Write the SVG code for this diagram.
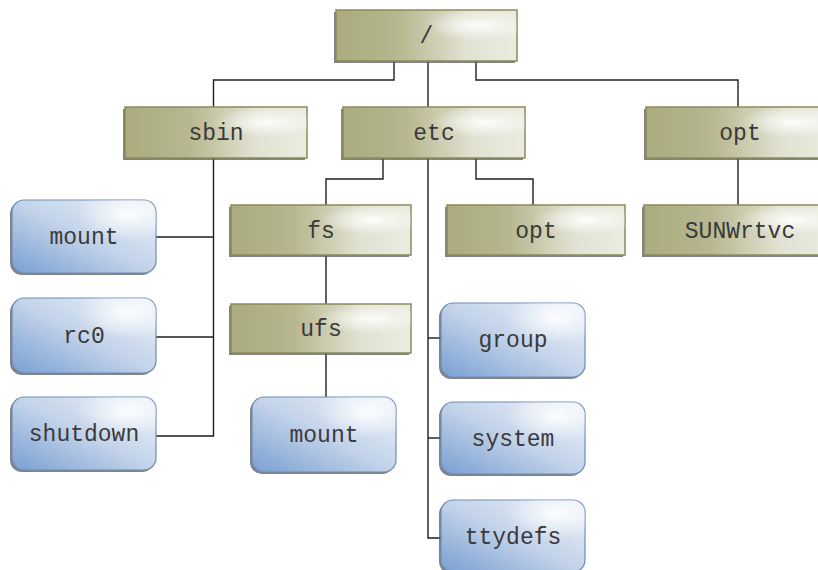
<svg xmlns="http://www.w3.org/2000/svg" width="818" height="570" viewBox="0 0 818 570">
<style>
.dir{fill:url(#gDir);stroke:#8a8a5c;stroke-width:1.5}
.file{fill:url(#gFile);stroke:#6f8db3;stroke-width:1.2}
.hl{stroke:none}
.sh{fill:#5a5a5a;opacity:0.75}
.t{font-family:"Liberation Mono","Courier New",monospace;font-size:23px;fill:#3a3a3a;text-anchor:middle}
.c{fill:none;stroke:#1e1e1e;stroke-width:1.4}
</style>
<defs>
<linearGradient id="gDir" x1="0" y1="0" x2="1" y2="0">
<stop offset="0" stop-color="#abab7f"/>
<stop offset="0.35" stop-color="#b7b790"/>
<stop offset="0.72" stop-color="#e2e2d3"/>
<stop offset="1" stop-color="#ebebe0"/>
</linearGradient>
<radialGradient id="hDir" cx="0.78" cy="0.3" r="0.3">
<stop offset="0" stop-color="#ffffff" stop-opacity="0.9"/>
<stop offset="1" stop-color="#ffffff" stop-opacity="0"/>
</radialGradient>
<linearGradient id="gFile" x1="0" y1="1" x2="1" y2="0">
<stop offset="0" stop-color="#789fd2"/>
<stop offset="0.5" stop-color="#c3d3ea"/>
<stop offset="1" stop-color="#eef3fa"/>
</linearGradient>
<radialGradient id="hFile" cx="0.8" cy="0.2" r="0.35">
<stop offset="0" stop-color="#ffffff" stop-opacity="0.9"/>
<stop offset="1" stop-color="#ffffff" stop-opacity="0"/>
</radialGradient>
</defs>
<rect width="818" height="570" fill="#ffffff"/>
<g id="connectors">
<path class="c" d="M394 61 V80 H213.5 V107"/>
<path class="c" d="M428 61 V107"/>
<path class="c" d="M476 61 V80 H738 V107"/>
<path class="c" d="M213.5 158 V436 H156"/>
<path class="c" d="M213.5 237 H156"/>
<path class="c" d="M213.5 337 H156"/>
<path class="c" d="M383 158 V179 H326 V205"/>
<path class="c" d="M476 158 V179 H533 V205"/>
<path class="c" d="M428 158 V538 H441"/>
<path class="c" d="M428 338 H441"/>
<path class="c" d="M428 438 H441"/>
<path class="c" d="M326 255 V304"/>
<path class="c" d="M326 353 V397"/>
<path class="c" d="M738 158 V205"/>
</g>
<g id="root">
<rect class="sh" x="334" y="12" width="181" height="51"/>
<rect class="dir" x="336" y="10" width="181" height="51"/>
<rect class="hl" x="336" y="10" width="181" height="51" fill="url(#hDir)"/>
<text class="t" x="426.5" y="43">/</text>
</g>
<g id="sbin">
<rect class="sh" x="123" y="109" width="182" height="51"/>
<rect class="dir" x="125" y="107" width="182" height="51"/>
<rect class="hl" x="125" y="107" width="182" height="51" fill="url(#hDir)"/>
<text class="t" x="216" y="140">sbin</text>
</g>
<g id="etc">
<rect class="sh" x="341" y="109" width="182" height="51"/>
<rect class="dir" x="343" y="107" width="182" height="51"/>
<rect class="hl" x="343" y="107" width="182" height="51" fill="url(#hDir)"/>
<text class="t" x="434" y="140">etc</text>
</g>
<g id="opt-root">
<rect class="sh" x="644" y="109" width="190" height="51"/>
<rect class="dir" x="646" y="107" width="190" height="51"/>
<rect class="hl" x="646" y="107" width="190" height="51" fill="url(#hDir)"/>
<text class="t" x="740" y="140">opt</text>
</g>
<g id="fs">
<rect class="sh" x="229" y="207" width="180" height="50"/>
<rect class="dir" x="231" y="205" width="180" height="50"/>
<rect class="hl" x="231" y="205" width="180" height="50" fill="url(#hDir)"/>
<text class="t" x="321" y="237.5">fs</text>
</g>
<g id="opt-etc">
<rect class="sh" x="445" y="207" width="178" height="50"/>
<rect class="dir" x="447" y="205" width="178" height="50"/>
<rect class="hl" x="447" y="205" width="178" height="50" fill="url(#hDir)"/>
<text class="t" x="536" y="237.5">opt</text>
</g>
<g id="SUNWrtvc">
<rect class="sh" x="642" y="207" width="190" height="50"/>
<rect class="dir" x="644" y="205" width="190" height="50"/>
<rect class="hl" x="644" y="205" width="190" height="50" fill="url(#hDir)"/>
<text class="t" x="740" y="237.5">SUNWrtvc</text>
</g>
<g id="ufs">
<rect class="sh" x="229" y="306" width="180" height="49"/>
<rect class="dir" x="231" y="304" width="180" height="49"/>
<rect class="hl" x="231" y="304" width="180" height="49" fill="url(#hDir)"/>
<text class="t" x="321" y="336">ufs</text>
</g>
<g id="mount-ufs">
<rect class="sh" x="250" y="399" width="144" height="75" rx="12"/>
<rect class="file" x="252" y="397" width="144" height="75" rx="12"/>
<rect class="hl" x="252" y="397" width="144" height="75" rx="12" fill="url(#hFile)"/>
<text class="t" x="324" y="442">mount</text>
</g>
<g id="mount-sbin">
<rect class="sh" x="10" y="202" width="144" height="73" rx="12"/>
<rect class="file" x="12" y="200" width="144" height="73" rx="12"/>
<rect class="hl" x="12" y="200" width="144" height="73" rx="12" fill="url(#hFile)"/>
<text class="t" x="84" y="244">mount</text>
</g>
<g id="rc0">
<rect class="sh" x="10" y="300" width="144" height="75" rx="12"/>
<rect class="file" x="12" y="298" width="144" height="75" rx="12"/>
<rect class="hl" x="12" y="298" width="144" height="75" rx="12" fill="url(#hFile)"/>
<text class="t" x="84" y="343">rc0</text>
</g>
<g id="shutdown">
<rect class="sh" x="10" y="399" width="144" height="73" rx="12"/>
<rect class="file" x="12" y="397" width="144" height="73" rx="12"/>
<rect class="hl" x="12" y="397" width="144" height="73" rx="12" fill="url(#hFile)"/>
<text class="t" x="84" y="441">shutdown</text>
</g>
<g id="group">
<rect class="sh" x="439" y="305" width="144" height="74" rx="12"/>
<rect class="file" x="441" y="303" width="144" height="74" rx="12"/>
<rect class="hl" x="441" y="303" width="144" height="74" rx="12" fill="url(#hFile)"/>
<text class="t" x="513" y="347">group</text>
</g>
<g id="system">
<rect class="sh" x="439" y="404" width="144" height="72" rx="12"/>
<rect class="file" x="441" y="402" width="144" height="72" rx="12"/>
<rect class="hl" x="441" y="402" width="144" height="72" rx="12" fill="url(#hFile)"/>
<text class="t" x="513" y="446">system</text>
</g>
<g id="ttydefs">
<rect class="sh" x="439" y="502" width="144" height="72" rx="12"/>
<rect class="file" x="441" y="500" width="144" height="72" rx="12"/>
<rect class="hl" x="441" y="500" width="144" height="72" rx="12" fill="url(#hFile)"/>
<text class="t" x="513" y="544">ttydefs</text>
</g>
</svg>
